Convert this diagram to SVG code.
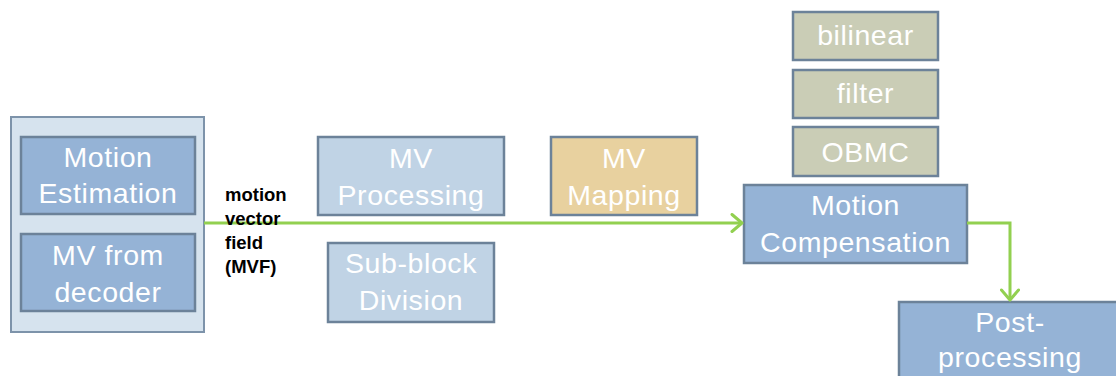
<svg xmlns="http://www.w3.org/2000/svg" width="1116" height="376" viewBox="0 0 1116 376">
<style>
rect{stroke:#6c8299;stroke-width:2.5}
.lbl{font-family:"Liberation Sans",Arial,sans-serif;font-size:28.5px;fill:#ffffff;text-anchor:middle;letter-spacing:0.6px}
.dark{fill:#95b3d6}
.light{fill:#c0d3e5}
.tan{fill:#e8d19f}
.olive{fill:#cacdb6}
.conn{fill:none;stroke:#92d050;stroke-width:3}
.note{font-family:"Liberation Sans",Arial,sans-serif;font-size:18.5px;font-weight:bold;fill:#000}
</style>
<defs>
<marker id="arr" viewBox="0 0 14 20" refX="12" refY="10" markerWidth="14" markerHeight="20" markerUnits="userSpaceOnUse" orient="auto">
<path d="M2,1.5 L12,10 L2,18.5" fill="none" stroke="#92d050" stroke-width="3" stroke-linecap="round" stroke-linejoin="round"/>
</marker>
</defs>
<rect width="1116" height="376" fill="#fff" style="stroke:none"/>
<g id="source">
<rect x="11" y="117" width="193" height="215" fill="#d6e3ee" style="stroke:#7d93aa;stroke-width:2"/>
</g>
<g id="motion-estimation">
<rect class="dark" x="21" y="137" width="174" height="77"/>
<text class="lbl" x="108" y="167">Motion</text>
<text class="lbl" x="108" y="203">Estimation</text>
</g>
<g id="mv-from-decoder">
<rect class="dark" x="21" y="234" width="174" height="77"/>
<text class="lbl" x="108" y="265">MV from</text>
<text class="lbl" x="108" y="302">decoder</text>
</g>
<g id="mv-processing">
<rect class="light" x="318" y="137" width="186" height="78"/>
<text class="lbl" x="411" y="168">MV</text>
<text class="lbl" x="411" y="205">Processing</text>
</g>
<g id="mv-mapping">
<rect class="tan" x="551" y="137" width="146" height="78"/>
<text class="lbl" x="624" y="168">MV</text>
<text class="lbl" x="624" y="205">Mapping</text>
</g>
<g id="sub-block-division">
<rect class="light" x="328" y="243" width="166" height="79"/>
<text class="lbl" x="411" y="273">Sub-block</text>
<text class="lbl" x="411" y="310">Division</text>
</g>
<g id="bilinear">
<rect class="olive" x="793" y="12" width="145" height="48"/>
<text class="lbl" x="865.5" y="45">bilinear</text>
</g>
<g id="filter">
<rect class="olive" x="793" y="70" width="145" height="48"/>
<text class="lbl" x="865.5" y="103">filter</text>
</g>
<g id="obmc">
<rect class="olive" x="793" y="127" width="145" height="49"/>
<text class="lbl" x="865.5" y="162">OBMC</text>
</g>
<g id="motion-compensation">
<rect class="dark" x="744" y="185" width="223" height="78"/>
<text class="lbl" x="855.5" y="215">Motion</text>
<text class="lbl" x="855.5" y="252">Compensation</text>
</g>
<g id="post-processing">
<rect class="dark" x="899" y="302" width="222" height="80"/>
<text class="lbl" x="1010" y="332">Post-</text>
<text class="lbl" x="1010" y="367">processing</text>
</g>
<g id="connectors">
<path class="conn" d="M204,223 H742" marker-end="url(#arr)"/>
<path class="conn" d="M967,223 H1010 V300" marker-end="url(#arr)"/>
</g>
<g id="mvf-label">
<text class="note" x="225" y="201">motion</text>
<text class="note" x="225" y="225">vector</text>
<text class="note" x="225" y="249">field</text>
<text class="note" x="225" y="273">(MVF)</text>
</g>
</svg>
